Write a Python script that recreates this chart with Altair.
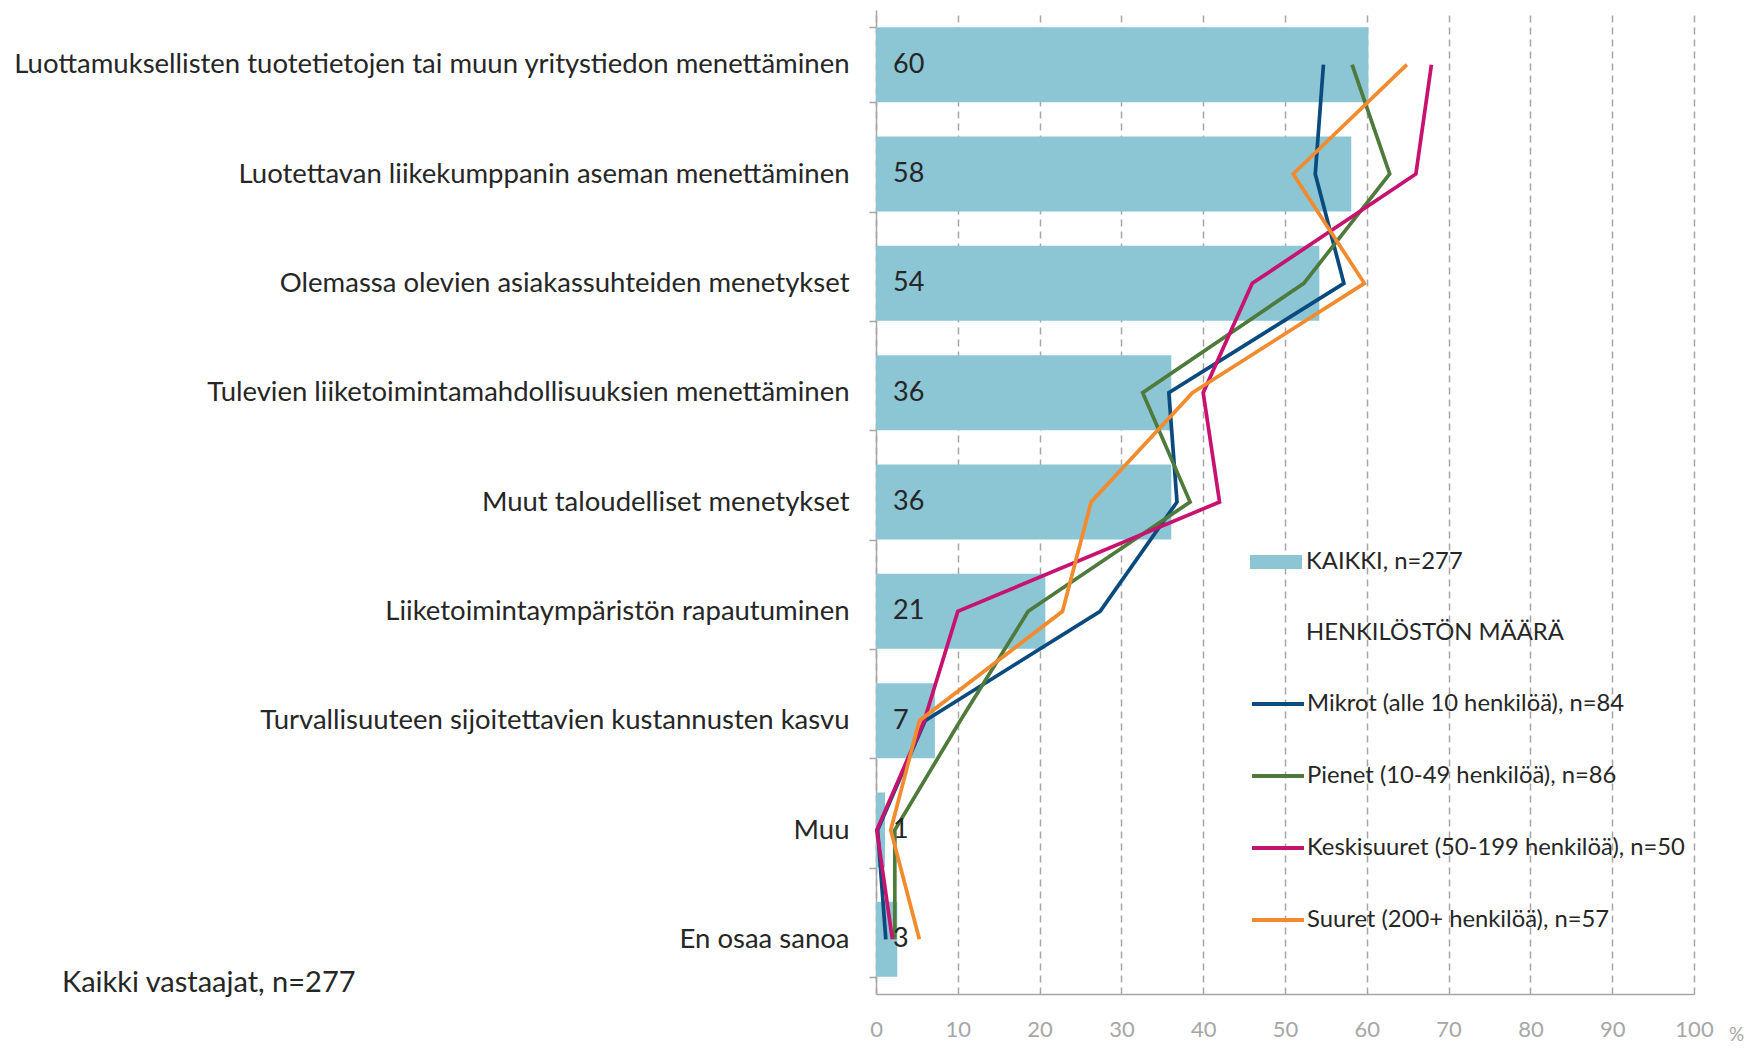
import altair as alt
import pandas as pd

categories = [
    "Luottamuksellisten tuotetietojen tai muun yritystiedon menettäminen",
    "Luotettavan liikekumppanin aseman menettäminen",
    "Olemassa olevien asiakassuhteiden menetykset",
    "Tulevien liiketoimintamahdollisuuksien menettäminen",
    "Muut taloudelliset menetykset",
    "Liiketoimintaympäristön rapautuminen",
    "Turvallisuuteen sijoitettavien kustannusten kasvu",
    "Muu",
    "En osaa sanoa",
]
kaikki = [60.2, 58.1, 54.2, 36.1, 36.1, 20.7, 7.2, 1.1, 2.6]
mikrot = [54.7, 53.7, 57.2, 35.8, 36.8, 27.4, 6.0, 0.2, 1.2]
pienet = [58.2, 62.8, 52.3, 32.6, 38.4, 18.6, 10.3, 2.3, 2.3]
keskisuuret = [67.9, 66.0, 46.0, 40.0, 42.0, 10.0, 5.9, 0.1, 2.0]
suuret = [64.9, 51.0, 59.7, 38.7, 26.3, 22.8, 5.3, 1.8, 5.3]

series_names = [
    "Mikrot (alle 10 henkilöä), n=84",
    "Pienet (10-49 henkilöä), n=86",
    "Keskisuuret (50-199 henkilöä), n=50",
    "Suuret (200+ henkilöä), n=57",
]
series_values = [mikrot, pienet, keskisuuret, suuret]
series_colors = ["#0b4a7e", "#4e7a3c", "#c8126f", "#f28a2e"]
bar_name = "KAIKKI, n=277"
group_title = "HENKILÖSTÖN MÄÄRÄ"
bar_color = "#8cc5d3"
note_text = "Kaikki vastaajat, n=277"
x_ticks = [0, 10, 20, 30, 40, 50, 60, 70, 80, 90, 100]

bar_df = pd.DataFrame({"cat": categories, "value": kaikki, "grp": bar_name})
rows = []
for name, vals in zip(series_names, series_values):
    for i, (c, v) in enumerate(zip(categories, vals)):
        rows.append({"cat": c, "value": v, "series": name, "idx": i})
line_df = pd.DataFrame(rows)
note_df = pd.DataFrame({"t": [note_text]})

FONT = "Lato"
TXT = "#262626"
GREY = "#a6a6a6"

y_enc = alt.Y(
    "cat:N",
    sort=categories,
    title=None,
    scale=alt.Scale(paddingInner=0.314, paddingOuter=0.157),
    axis=alt.Axis(
        tickBand="extent", tickSize=7, labelPadding=20, labelLimit=1200,
        labelFont=FONT, labelFontSize=27.5, labelColor=TXT, grid=False,
    ),
)
x_scale = alt.Scale(domain=[0, 100], nice=False)
x_axis = alt.Axis(
    values=x_ticks, grid=True, gridDash=[7, 5], gridColor=GREY, gridWidth=1.5,
    ticks=False, labelFont=FONT, labelFontSize=22, labelColor=GREY,
    labelBaseline="middle", labelPadding=35, labelFlush=False,
    titleX=860, titleY=46, titleAlign="center", titleBaseline="alphabetic",
    titleFont=FONT, titleFontSize=19, titleColor=GREY, titleFontWeight="normal",
)

bars = alt.Chart(bar_df).mark_bar().encode(
    x=alt.X("value:Q", scale=x_scale, axis=x_axis, title="%"),
    y=y_enc,
    fill=alt.Fill(
        "grp:N",
        scale=alt.Scale(domain=[bar_name, group_title], range=[bar_color, "rgba(0,0,0,0)"]),
        legend=alt.Legend(
            title=None, orient="none", legendX=374, legendY=526, padding=0,
            symbolType="M-1,-0.27H1V0.27H-1Z", symbolSize=2704, symbolStrokeWidth=0,
            labelFont=FONT, labelFontSize=23.8, labelColor=TXT, labelOffset=4,
            labelLimit=1000, rowPadding=33,
        ),
    ),
)

lines = alt.Chart(line_df).mark_line(strokeWidth=3.7, strokeJoin="miter").encode(
    x=alt.X("value:Q", scale=x_scale, title="%"),
    y=alt.Y("cat:N", sort=categories),
    stroke=alt.Stroke(
        "series:N",
        scale=alt.Scale(domain=series_names, range=series_colors),
        legend=alt.Legend(
            title=None, orient="none", legendX=374, legendY=666, padding=0,
            symbolType="stroke", symbolSize=2704, symbolStrokeWidth=4,
            labelFont=FONT, labelFontSize=23.8, labelColor=TXT, labelOffset=1,
            labelLimit=1000, rowPadding=32,
        ),
    ),
    order=alt.Order("idx:Q"),
)

labels = alt.Chart(bar_df).mark_text(
    align="left", baseline="middle", dx=17, font=FONT, fontSize=27, color=TXT
).encode(
    x=alt.datum(0),
    y=alt.Y("cat:N", sort=categories),
    text=alt.Text("value:Q", format=".0f"),
)

note = alt.Chart(note_df).mark_text(
    align="left", baseline="middle", font=FONT, fontSize=29, color=TXT
).encode(x=alt.value(-814), y=alt.value(973), text="t:N")

chart = alt.layer(bars, lines, labels, note).properties(
    width=818, height=984,
    autosize=alt.AutoSizeParams(type="none"),
    padding={"left": 868, "top": 2, "right": 52, "bottom": 49},
    background="white",
).configure_view(stroke=None).configure_axis(
    domainColor=GREY, domainWidth=1.5, tickColor=GREY, tickWidth=1.5,
)

chart.save("out.html", embed_options={"renderer": "svg", "actions": False})
